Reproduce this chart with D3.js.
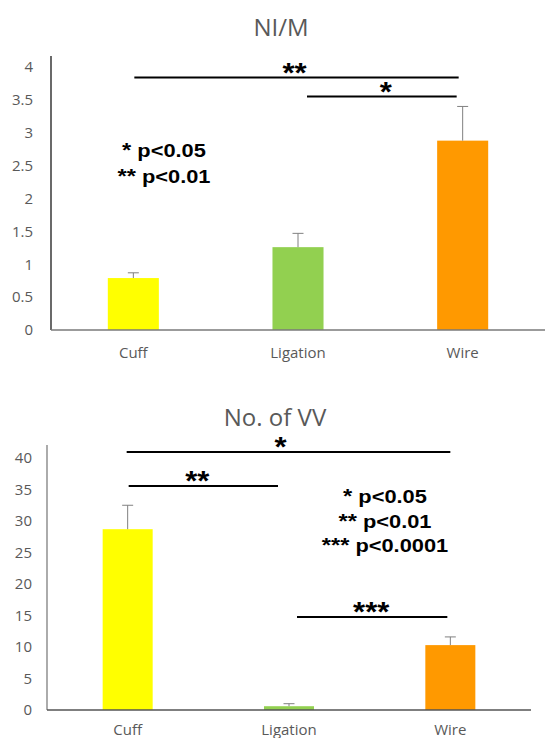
<!DOCTYPE html>
<html><head><meta charset="utf-8">
<script src="https://cdn.jsdelivr.net/npm/d3@7"></script>
<style>body{margin:0;background:#fff}svg{display:block}</style>
</head><body>
<svg id="chart" width="545" height="738"></svg>
<script>
// ---- data ----
const categories = ["Cuff", "Ligation", "Wire"];
const barColors = ["#FFFF00", "#92D050", "#FF9900"];

const nimTitle = "NI/M";
const nimValues = [0.79, 1.26, 2.88];
const nimErrors = [0.08, 0.21, 0.52];
const nimTicks = [0, 0.5, 1, 1.5, 2, 2.5, 3, 3.5, 4];
const nimSig = [
  {from: "Cuff", to: "Wire", y: 3.84, label: "**"},
  {from: "Ligation", to: "Wire", y: 3.55, label: "*"}
];
const nimNotes = [["*", "p<0.05"], ["**", "p<0.01"]];

const vvTitle = "No. of VV";
const vvValues = [28.7, 0.6, 10.3];
const vvErrors = [3.8, 0.4, 1.3];
const vvTicks = [0, 5, 10, 15, 20, 25, 30, 35, 40];
const vvSig = [
  {from: "Cuff", to: "Wire", y: 40.95, label: "*"},
  {from: "Cuff", to: "Ligation", y: 35.56, label: "**"},
  {from: "Ligation", to: "Wire", y: 14.76, label: "***"}
];
const vvNotes = [["*", "p<0.05"], ["**", "p<0.01"], ["***", "p<0.0001"]];

// ---- layout ----
const svg = d3.select("#chart");
const axisFont = "'Open Sans', sans-serif";
const boldFont = "'Liberation Sans', Arial, sans-serif";
const grey = "#595959";

function drawPanel(cfg) {
  const g = svg.append("g");
  const x = d3.scaleBand().domain(categories).range([cfg.x0, cfg.x1])
    .paddingInner(0.69).paddingOuter(0.345);
  const y = d3.scaleLinear().domain([0, cfg.max]).range([cfg.base, cfg.top]);

  // title
  g.append("text").attr("x", cfg.titleX).attr("y", cfg.titleY)
    .attr("text-anchor", "middle").attr("font-family", axisFont)
    .attr("font-size", 24).attr("fill", grey).text(cfg.title);

  // y axis
  const ya = d3.axisLeft(y).tickValues(cfg.ticks).tickSize(0).tickPadding(cfg.tickPad)
    .tickFormat(d3.format("~g"));
  const yg = g.append("g").attr("transform", `translate(${cfg.x0},0)`).call(ya);
  yg.select(".domain").remove();
  yg.selectAll("text").attr("font-family", axisFont).attr("font-size", 15).attr("fill", grey);
  g.append("line").attr("x1", cfg.x0).attr("x2", cfg.x0)
    .attr("y1", cfg.axisTop).attr("y2", cfg.base)
    .attr("stroke", cfg.yAxisColor).attr("stroke-width", 1.3);

  // bars
  g.selectAll("rect.bar").data(cfg.values).join("rect")
    .attr("x", (d, i) => x(categories[i]))
    .attr("width", x.bandwidth())
    .attr("y", d => y(d))
    .attr("height", d => cfg.base - y(d))
    .attr("fill", (d, i) => barColors[i]);

  // error bars
  cfg.values.forEach((v, i) => {
    const cx = x(categories[i]) + x.bandwidth() / 2;
    const yt = y(v + cfg.errors[i]);
    g.append("line").attr("x1", cx).attr("x2", cx).attr("y1", y(v)).attr("y2", yt)
      .attr("stroke", "#808080").attr("stroke-width", 1);
    g.append("line").attr("x1", cx - 5.5).attr("x2", cx + 5.5).attr("y1", yt).attr("y2", yt)
      .attr("stroke", "#808080").attr("stroke-width", 1);
  });

  // x axis
  g.append("line").attr("x1", cfg.x0).attr("x2", cfg.xAxisEnd)
    .attr("y1", cfg.base).attr("y2", cfg.base)
    .attr("stroke", cfg.xAxisColor).attr("stroke-width", 1.5);
  g.selectAll("text.cat").data(categories).join("text")
    .attr("x", d => x(d) + x.bandwidth() / 2)
    .attr("y", cfg.base + cfg.labelDy)
    .attr("text-anchor", "middle").attr("font-family", axisFont)
    .attr("font-size", 15).attr("fill", grey).text(d => d);

  // significance bars
  cfg.sig.forEach((s, i) => {
    const off = cfg.sigInset[i];
    const xa = x(s.from) + x.bandwidth() / 2 + off[0];
    const xb = x(s.to) + x.bandwidth() / 2 + off[1];
    const yy = y(s.y);
    g.append("line").attr("x1", xa).attr("x2", xb).attr("y1", yy).attr("y2", yy)
      .attr("stroke", "#000").attr("stroke-width", 2);
    g.append("text").attr("transform", `translate(${(xa + xb) / 2 + off[2]},${yy + 4}) scale(1.15,1)`)
      .attr("text-anchor", "middle").attr("font-family", boldFont).attr("font-weight", "bold")
      .attr("font-size", 27).attr("fill", "#000").text(s.label);
  });

  // p-value notes
  cfg.notes.forEach((n, i) => {
    const t = g.append("text")
      .attr("transform", `translate(${cfg.noteX},${cfg.noteY + i * cfg.noteGap}) scale(1.18,1)`)
      .attr("text-anchor", "middle").attr("font-family", boldFont).attr("font-weight", "bold")
      .attr("fill", "#000");
    t.append("tspan").attr("font-size", 20).text(n[0]);
    t.append("tspan").attr("font-size", 18.5).text(" " + n[1]);
  });
}

drawPanel({
  title: nimTitle, titleX: 281, titleY: 36,
  values: nimValues, errors: nimErrors, ticks: nimTicks, max: 4,
  x0: 51, x1: 545, xAxisEnd: 545, base: 330, top: 67, axisTop: 56,
  yAxisColor: "#1a1a1a", xAxisColor: "#7a7a7a", tickPad: 18, labelDy: 28,
  sig: nimSig, sigInset: [[1, -4, -2], [9, -6, 4]],
  notes: nimNotes, noteX: 164, noteY: 157, noteGap: 26
});

drawPanel({
  title: vvTitle, titleX: 275, titleY: 426,
  values: vvValues, errors: vvErrors, ticks: vvTicks, max: 40,
  x0: 47, x1: 531, xAxisEnd: 531, base: 710, top: 458, axisTop: 445,
  yAxisColor: "#7f7f7f", xAxisColor: "#555", tickPad: 15, labelDy: 25,
  sig: vvSig, sigInset: [[-1, 0, -8], [1, -11, -6], [8, -3, -1]],
  notes: vvNotes, noteX: 385, noteY: 503, noteGap: 24.5
});
</script>
</body></html>
